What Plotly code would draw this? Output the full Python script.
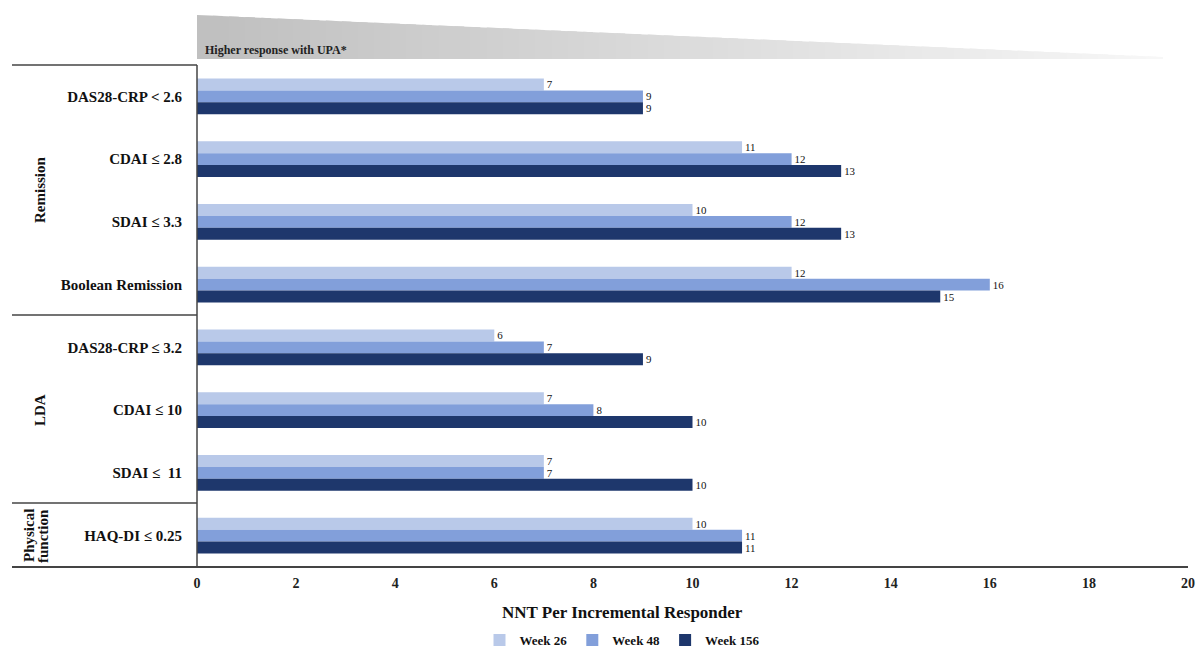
import plotly.graph_objects as go

categories = ["DAS28-CRP < 2.6", "CDAI \u2264 2.8", "SDAI \u2264 3.3", "Boolean Remission",
              "DAS28-CRP \u2264 3.2", "CDAI \u2264 10", "SDAI \u2264  11", "HAQ-DI \u2264 0.25"]
week26 = [7, 11, 10, 12, 6, 7, 7, 10]
week48 = [9, 12, 12, 16, 7, 8, 7, 11]
week156 = [9, 13, 13, 15, 9, 10, 10, 11]
x_ticks = [0, 2, 4, 6, 8, 10, 12, 14, 16, 18, 20]

W, H = 1200, 651
L, R, T, B = 197, 12, 65, 84
pw, ph = W - L - R, H - T - B


def px(x):
    return (x - L) / pw


def py(y):
    return (H - B - y) / ph


FONT = "Liberation Serif"

fig = go.Figure()
series = [("Week 26", week26, "#b9c9e9"), ("Week 48", week48, "#829fda"), ("Week 156", week156, "#1e376c")]
for name, vals, col in series:
    fig.add_trace(go.Bar(
        y=categories, x=vals, name=f"<b>{name}</b>", orientation="h",
        marker=dict(color=col, line=dict(width=0)),
        text=[str(v) for v in vals], textposition="outside",
        textfont=dict(family=FONT, size=11, color="#111"),
        cliponaxis=False,
    ))

shapes = []
# gradient triangle "Higher response with UPA*"
x0, x1, ytop, ybot, ytip = 197, 1163, 15, 59, 57
n = 60
for i in range(n):
    xa = x0 + (x1 - x0) * i / n
    xb = min(x1, x0 + (x1 - x0) * (i + 1.6) / n)
    ya = ytop + (ytip - ytop) * (xa - x0) / (x1 - x0)
    yb = ytop + (ytip - ytop) * (xb - x0) / (x1 - x0)
    g = int(192 + (248 - 192) * i / n)
    shapes.append(dict(
        type="path", xref="paper", yref="paper", layer="below",
        path=f"M{px(xa)},{py(ya)} L{px(xb)},{py(yb)} L{px(xb)},{py(ybot)} L{px(xa)},{py(ybot)} Z",
        fillcolor=f"rgb({g},{g},{g})", line=dict(width=0),
    ))

line_col = "#444"
for yy in [65, 315, 503]:
    shapes.append(dict(type="line", xref="paper", yref="paper",
                       x0=px(12), x1=px(197), y0=py(yy), y1=py(yy),
                       line=dict(color=line_col, width=1.5)))
shapes.append(dict(type="line", xref="paper", yref="paper",
                   x0=px(12), x1=px(1188), y0=py(567), y1=py(567),
                   line=dict(color=line_col, width=2)))
shapes.append(dict(type="line", xref="paper", yref="paper",
                   x0=px(197), x1=px(197), y0=py(65), y1=py(567),
                   line=dict(color=line_col, width=1.5)))


def side_label(text, x, y):
    return dict(text=f"<b>{text}</b>", xref="paper", yref="paper", x=px(x), y=py(y),
                xanchor="center", yanchor="middle", textangle=-90, showarrow=False,
                font=dict(family=FONT, size=15, color="#111"))


annotations = [
    dict(text="<b>Higher response with UPA*</b>", xref="paper", yref="paper",
         x=px(203), y=py(50), xanchor="left", yanchor="middle", showarrow=False,
         font=dict(family=FONT, size=12, color="#222")),
    side_label("Remission", 40, 190),
    side_label("LDA", 40, 410),
    side_label("Physical", 29, 536),
    side_label("function", 43, 536),
    dict(text="<b>NNT Per Incremental Responder</b>", xref="paper", yref="paper",
         x=px(622), y=py(612), xanchor="center", yanchor="middle", showarrow=False,
         font=dict(family=FONT, size=17, color="#111")),
]

fig.update_layout(
    width=W, height=H,
    margin=dict(l=L, r=R, t=T, b=B, pad=0, autoexpand=False),
    paper_bgcolor="white", plot_bgcolor="white",
    barmode="group", bargap=0.43, bargroupgap=0,
    font=dict(family=FONT, size=13, color="#111"),
    shapes=shapes, annotations=annotations,
    legend=dict(orientation="h", x=px(622), xanchor="center", y=py(640), yanchor="middle",
                font=dict(family=FONT, size=13, color="#111"), itemwidth=30,
                traceorder="normal"),
)
fig.update_xaxes(range=[0, 20], tickvals=x_ticks, ticktext=[f"<b>{v}</b>" for v in x_ticks],
                 showgrid=False, zeroline=False, showline=False, ticks="", automargin=False,
                 ticklabelstandoff=6, tickfont=dict(family=FONT, size=14, color="#222"))
fig.update_yaxes(autorange="reversed", showgrid=False, zeroline=False, showline=False, ticks="",
                 tickvals=categories, ticktext=[f"<b>{c}</b>" for c in categories], automargin=False,
                 ticklabelstandoff=14, tickfont=dict(family=FONT, size=15, color="#111"))

fig.write_html("out.html", config={"displayModeBar": False},
               post_script="document.body.style.margin='0';")
